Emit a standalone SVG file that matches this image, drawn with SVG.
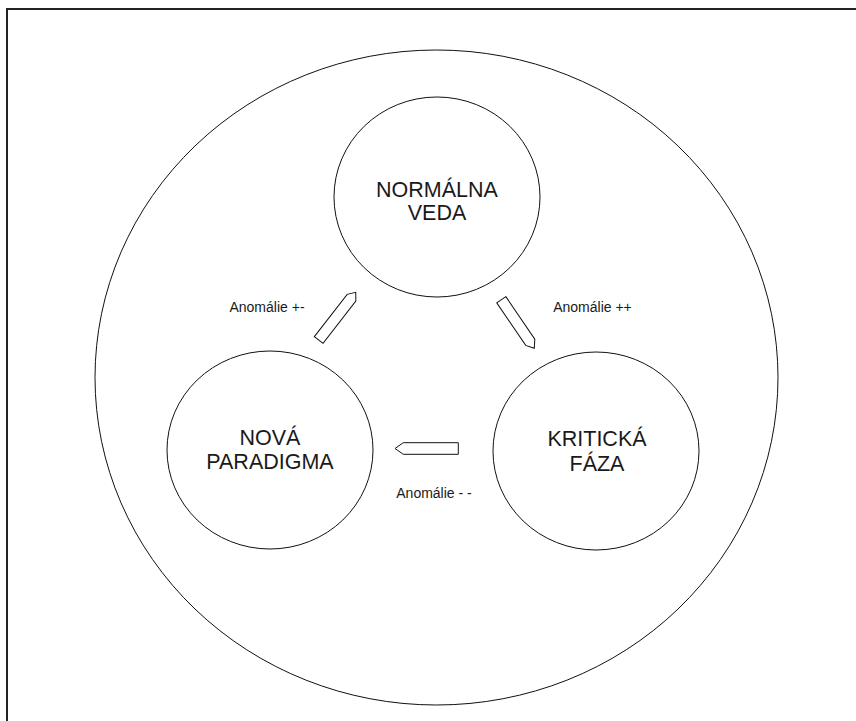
<svg xmlns="http://www.w3.org/2000/svg" width="856" height="721" viewBox="0 0 856 721">
<style>
.frame{fill:none;stroke:#222;stroke-width:2}
.outer{fill:none;stroke:#111;stroke-width:1}
.node{fill:#fff;stroke:#111;stroke-width:1}
.t{font-family:"Liberation Sans",Arial,sans-serif;font-size:21.5px;fill:#1a1a1a;text-anchor:middle}
.lbl{font-family:"Liberation Sans",Arial,sans-serif;font-size:14px;fill:#1a1a1a;text-anchor:middle}
.arr{fill:#fff;stroke:#111;stroke-width:1;stroke-linejoin:miter}
</style>
<rect width="856" height="721" fill="#fff"/>
<rect class="frame" x="7" y="9" width="900" height="800"/>
<ellipse id="outer" class="outer" cx="436.5" cy="377.5" rx="341.5" ry="327.5"/>
<g id="normalna-veda">
<ellipse class="node" cx="437" cy="197" rx="103" ry="100"/>
<text class="t" x="437" y="197">NORMÁLNA</text>
<text class="t" x="437" y="220">VEDA</text>
</g>
<g id="nova-paradigma">
<ellipse class="node" cx="270" cy="450" rx="103" ry="99"/>
<text class="t" x="270" y="445">NOVÁ</text>
<text class="t" x="270" y="469">PARADIGMA</text>
</g>
<g id="kriticka-faza">
<ellipse class="node" cx="596" cy="451" rx="103" ry="99"/>
<text class="t" x="597" y="446">KRITICKÁ</text>
<text class="t" x="597" y="471">FÁZA</text>
</g>
<g id="connectors">
<path class="arr" transform="translate(318.7 340) rotate(-52.2)" d="M0,-5.5 H53.5 L60.4,0 L53.5,5.5 H0 Z"/>
<path class="arr" transform="translate(501.3 299.7) rotate(55.8)" d="M0,-5.5 H51.5 L58.7,0 L51.5,5.5 H0 Z"/>
<path class="arr" transform="translate(458.3 448.5) rotate(180)" d="M0,-5.8 H55 L63.3,0 L55,5.8 H0 Z"/>
<text class="lbl" x="267" y="312">Anomálie +-</text>
<text class="lbl" x="592.5" y="312">Anomálie ++</text>
<text class="lbl" x="434" y="498">Anomálie - -</text>
</g>
</svg>
